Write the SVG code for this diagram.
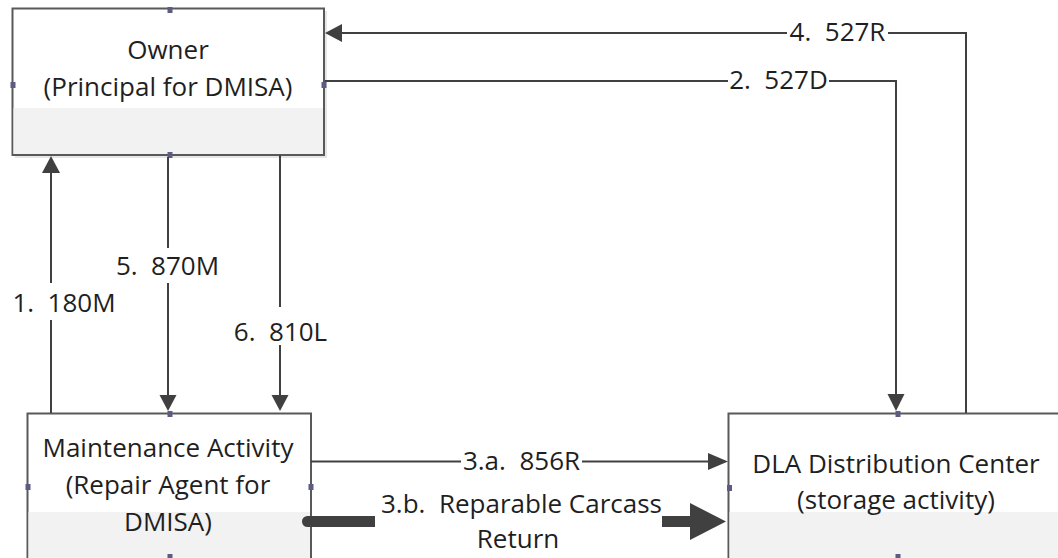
<svg xmlns="http://www.w3.org/2000/svg" width="1058" height="558" viewBox="0 0 1058 558">
<style>
.box{fill:#ffffff;stroke:#595959;stroke-width:2}
.band{fill:#f2f2f2}
.shadow{fill:#e6e6e6}
.pt{fill:#5c5c82}
.t{font-family:"Open Sans","Liberation Sans",sans-serif;font-size:26px;fill:#1f1f1f;text-anchor:middle}
.lbl{font-family:"Open Sans","Liberation Sans",sans-serif;font-size:26px;fill:#1f1f1f;text-anchor:middle;white-space:pre}
.ln{fill:none;stroke:#404040;stroke-width:2}
.thick{fill:none;stroke:#404040;stroke-width:11}
.ah{fill:#404040}
.bg{fill:#ffffff}
</style>
<rect width="1058" height="558" fill="#ffffff"/>
<g id="owner">
<rect class="shadow" x="15" y="11" width="312" height="147"/>
<rect class="box" x="12.5" y="8.5" width="311.5" height="146.5"/>
<rect class="band" x="13.5" y="108" width="309.5" height="46"/>
<text class="t" x="168" y="59">Owner</text>
<text class="t" x="168" y="96">(Principal for DMISA)</text>
<rect class="pt" x="167.5" y="7" width="5" height="6"/>
<rect class="pt" x="10.5" y="82" width="5" height="6"/>
<rect class="pt" x="321.5" y="82" width="5" height="6"/>
<rect class="pt" x="167.5" y="152" width="5" height="6"/>
</g>
<g id="maintenance">
<rect class="box" x="27.5" y="413.5" width="283.5" height="160"/>
<rect class="band" x="28.5" y="512" width="281.5" height="50"/>
<text class="t" x="168" y="457">Maintenance Activity</text>
<text class="t" x="168" y="494">(Repair Agent for</text>
<text class="t" x="168" y="531">DMISA)</text>
<rect class="pt" x="167.5" y="411" width="5" height="6"/>
<rect class="pt" x="25.5" y="484" width="5" height="6"/>
<rect class="pt" x="308.5" y="484" width="5" height="6"/>
<rect class="pt" x="167.5" y="554" width="5" height="6"/>
</g>
<g id="dla">
<rect class="box" x="728.5" y="413.5" width="340" height="160"/>
<rect class="band" x="729.5" y="512" width="330" height="50"/>
<text class="t" x="896" y="473">DLA Distribution Center</text>
<text class="t" x="896" y="509">(storage activity)</text>
<rect class="pt" x="895.5" y="411" width="5" height="6"/>
<rect class="pt" x="727" y="485" width="5" height="6"/>
<rect class="pt" x="895.5" y="554" width="5" height="6"/>
</g>
<g id="connectors">
<path class="ln" d="M966 413 V33 H342"/>
<polygon class="ah" points="325,33 342,24 342,42"/>
<path class="ln" d="M325 81 H896 V394"/>
<polygon class="ah" points="896,411 887.5,394 904.5,394"/>
<path class="ln" d="M51 413 V173"/>
<polygon class="ah" points="51,156 42,173 60,173"/>
<path class="ln" d="M168 157 V395"/>
<polygon class="ah" points="168,411 159.5,395 176.5,395"/>
<path class="ln" d="M280 155 V395"/>
<polygon class="ah" points="280,411 271.5,395 288.5,395"/>
<path class="ln" d="M311 461.5 H708"/>
<polygon class="ah" points="728,461.5 708,453 708,470"/>
<path class="thick" d="M307.5 521.5 H690" stroke-linecap="round"/>
<polygon class="ah" points="726,521.5 690,503 690,540"/>
</g>
<g id="labels">
<rect class="bg" x="787" y="21" width="101" height="24"/>
<text class="lbl" x="837.5" y="41">4.  527R</text>
<rect class="bg" x="728" y="68" width="101" height="24"/>
<text class="lbl" x="778.5" y="89">2.  527D</text>
<rect class="bg" x="113" y="248" width="110" height="35"/>
<text class="lbl" x="167.5" y="275">5.  870M</text>
<rect class="bg" x="10" y="283" width="110" height="37"/>
<text class="lbl" x="64" y="312">1.  180M</text>
<rect class="bg" x="231" y="307" width="100" height="38"/>
<text class="lbl" x="280.5" y="341">6.  810L</text>
<rect class="bg" x="461" y="450" width="121" height="23"/>
<text class="lbl" x="521.5" y="470">3.a.  856R</text>
<rect class="bg" x="375" y="490" width="287" height="68"/>
<text class="lbl" x="521.5" y="513">3.b.  Reparable Carcass</text>
<text class="lbl" x="518" y="548">Return</text>
</g>
</svg>
